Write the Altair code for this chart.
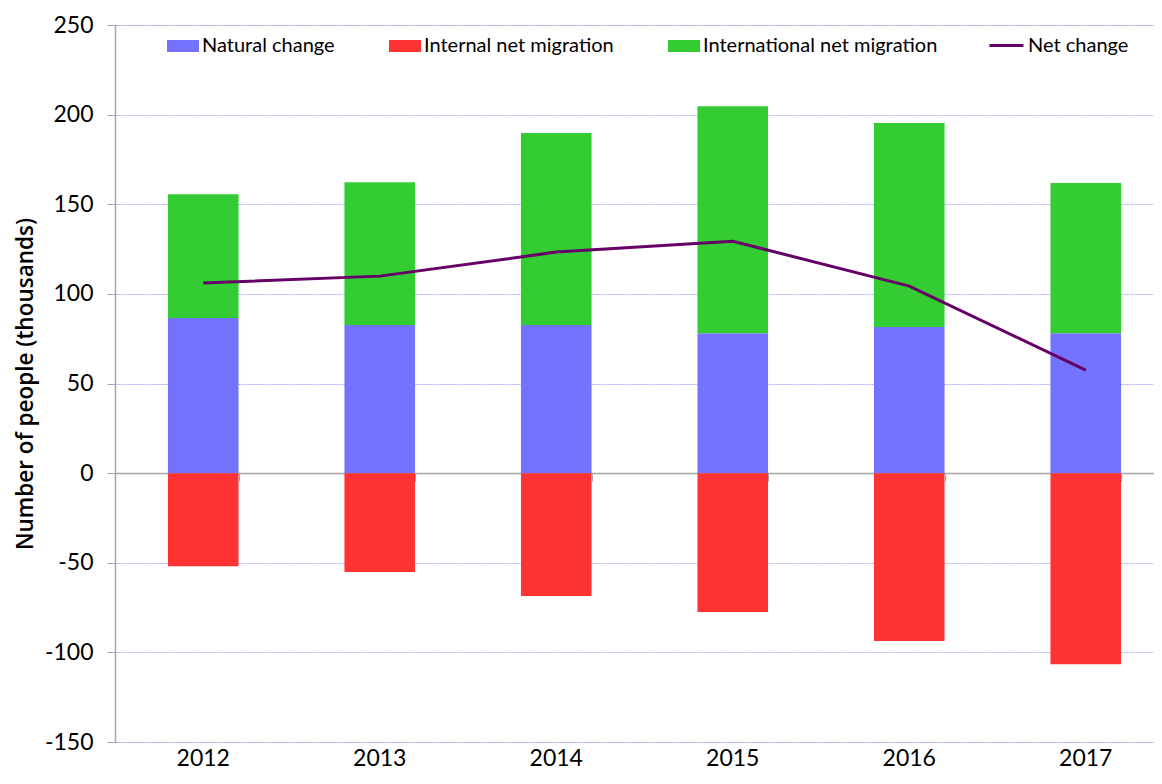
import altair as alt
import pandas as pd

years = ["2012", "2013", "2014", "2015", "2016", "2017"]
natural = [86.5, 82.6, 82.6, 78.1, 81.5, 78.1]
internal = [-51.9, -55.2, -68.6, -77.5, -93.7, -106.6]
international = [69.1, 79.7, 107.1, 126.6, 113.8, 83.7]
net = [106.0, 109.9, 123.3, 129.4, 104.3, 57.5]

components = ["Natural change", "Internal net migration", "International net migration"]
comp_colors = ["#7373FF", "#FF3333", "#33CC33"]
y_ticks = [-150, -100, -50, 0, 50, 100, 150, 200, 250]

rows = []
for i, yr in enumerate(years):
    rows.append({"year": yr, "component": components[0], "value": natural[i], "ord": 0})
    rows.append({"year": yr, "component": components[1], "value": internal[i], "ord": 1})
    rows.append({"year": yr, "component": components[2], "value": international[i], "ord": 2})
df = pd.DataFrame(rows)
line_df = pd.DataFrame({"year": years, "net": net, "series": ["Net change"] * len(years)})

FONT = "Lato"
x_scale = alt.Scale(domain=years, range=[0, 1059], paddingInner=0.6, paddingOuter=0.3)
y_scale = alt.Scale(domain=[-150, 250], nice=False, zero=False)

bars = alt.Chart(df).mark_bar().encode(
    x=alt.X("year:N", scale=x_scale,
            axis=alt.Axis(title=None, labelAngle=0, domain=False, ticks=False,
                          labelFontSize=23, labelColor="#000000", labelPadding=5,
                          labelFont=FONT)),
    y=alt.Y("value:Q", scale=y_scale, stack="zero",
            axis=alt.Axis(title="Number of people (thousands)", values=y_ticks,
                          labelExpr="replace(datum.label, '\u2212', '-')",
                          labelFontSize=23, labelColor="#000000", labelPadding=14,
                          labelFont=FONT, tickSize=8, tickColor="#a6a6a6",
                          domainColor="#a6a6a6", domainWidth=1.5,
                          grid=True, gridColor="#aaaaff", gridDash=[2, 1], gridWidth=1.2,
                          titleFontSize=22.5, titleFontWeight=600, titleFont="Open Sans",
                          titleColor="#000000", titlePadding=7)),
    color=alt.Color("component:N",
                    scale=alt.Scale(domain=components, range=comp_colors),
                    legend=alt.Legend(title=None, orient="none", direction="horizontal",
                                      legendX=52, legendY=5,
                                      symbolType="M-1,-0.375H1V0.375H-1Z",
                                      symbolSize=1024, symbolStrokeWidth=0,
                                      symbolOpacity=1, labelLimit=500,
                                      labelFontSize=20, labelFont=FONT, labelColor="#000000",
                                      labelOffset=3, columnPadding=54)),
    order=alt.Order("ord:Q"),
)

line = alt.Chart(line_df).mark_line(strokeWidth=3).encode(
    x=alt.X("year:N", scale=x_scale,
            axis=alt.Axis(title=None, orient="bottom", offset=-269, labels=False,
                          tickBand="extent", domain=True, domainColor="#a6a6a6",
                          domainWidth=1.5, ticks=True, tickColor="#a6a6a6",
                          tickSize=8, grid=False)),
    y=alt.Y("net:Q", scale=y_scale),
    stroke=alt.Stroke("series:N",
                      scale=alt.Scale(domain=["Net change"], range=["#660066"]),
                      legend=alt.Legend(title=None, orient="none", legendX=873, legendY=2,
                                        symbolType="stroke", symbolSize=1156,
                                        symbolStrokeWidth=3, labelLimit=500,
                                        labelFontSize=20, labelFont=FONT,
                                        labelColor="#000000", labelOffset=3)),
)

chart = alt.layer(bars, line).resolve_axis(x="independent").resolve_scale(
    color="independent", stroke="independent"
).properties(
    width=1039, height=717,
    autosize=alt.AutoSizeParams(type="none"),
    padding={"left": 107, "top": 17, "right": 0, "bottom": 30},
).configure_view(stroke=None).configure(font=FONT, background="white")

chart.save("out.html", embed_options={"renderer": "svg", "actions": False})
